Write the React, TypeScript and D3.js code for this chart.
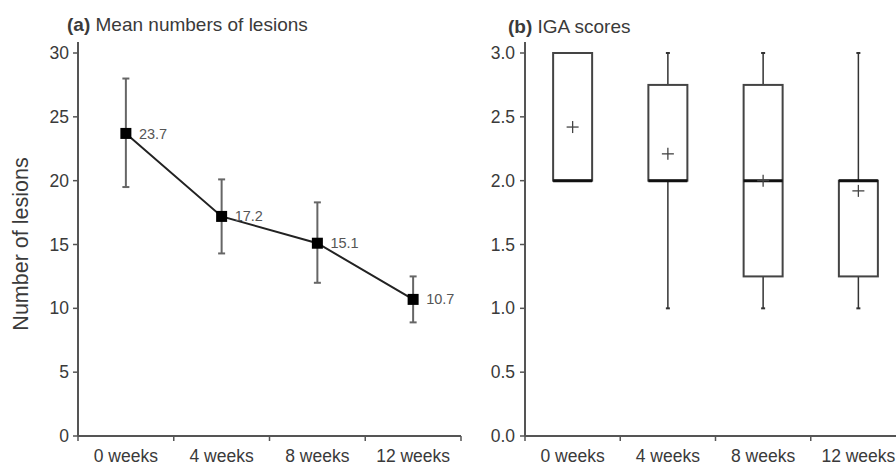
import React from "react";
import * as d3 from "d3";

const categories = ["0 weeks", "4 weeks", "8 weeks", "12 weeks"];
const lesionMeans = [23.7, 17.2, 15.1, 10.7];
const lesionUpper = [28.0, 20.1, 18.3, 12.5];
const lesionLower = [19.5, 14.3, 12.0, 8.9];
const lesionTicks = [0, 5, 10, 15, 20, 25, 30];

const igaMin = [2, 1, 1, 1];
const igaQ1 = [2, 2, 1.25, 1.25];
const igaMedian = [2, 2, 2, 2];
const igaQ3 = [3, 2.75, 2.75, 2];
const igaMax = [3, 3, 3, 3];
const igaMean = [2.42, 2.21, 2.0, 1.92];
const igaTicks = [0, 0.5, 1.0, 1.5, 2.0, 2.5, 3.0];

const FONT = "'Liberation Sans', Arial, Helvetica, sans-serif";
const AXIS = "#555";
const TXT = "#3a3a3a";

export default function App() {
  const W = 896, H = 466;
  const yTop = 53, yBot = 436, axisTop = 42;
  const xa = d3.scaleBand<string>().domain(categories).range([78, 461]);
  const ya = d3.scaleLinear().domain([0, 30]).range([yBot, yTop]);
  const xb = d3.scaleBand<string>().domain(categories).range([525, 906]);
  const yb = d3.scaleLinear().domain([0, 3]).range([yBot, yTop]);

  const lineGen = d3
    .line<number>()
    .x((_, i) => (xa(categories[i]) as number) + xa.bandwidth() / 2)
    .y((d) => ya(d));

  const boundaries = (x: d3.ScaleBand<string>) => {
    const arr = categories.map((c) => x(c) as number);
    arr.push(x.range()[1]);
    return arr;
  };

  const boxW = 39;
  const xLabelBaseline = 462;

  return (
    <svg width={W} height={H} style={{ display: "block", position: "absolute", left: 0, top: 0 }} fontFamily={FONT}>
      <rect width={W} height={H} fill="#fff" />

      {/* ---------- Panel (a) ---------- */}
      <text x={67} y={31} fontSize={19} fill={TXT}>
        <tspan fontWeight="bold">(a)</tspan> Mean numbers of lesions
      </text>
      <text
        transform={`translate(28,${244}) rotate(-90)`}
        textAnchor="middle"
        fontSize={21.5}
        fill={TXT}
      >
        Number of lesions
      </text>
      <line x1={78} x2={78} y1={axisTop} y2={yBot} stroke={AXIS} strokeWidth={2} />
      <line x1={78} x2={461} y1={yBot} y2={yBot} stroke={AXIS} strokeWidth={2} />
      {lesionTicks.map((t) => (
        <g key={"ya" + t}>
          <line x1={73} x2={78} y1={ya(t)} y2={ya(t)} stroke={AXIS} strokeWidth={1.5} />
          <text x={69} y={ya(t)} dy="0.35em" textAnchor="end" fontSize={17.5} fill={TXT}>
            {t}
          </text>
        </g>
      ))}
      {boundaries(xa).map((b, i) => (
        <line key={"xta" + i} x1={b} x2={b} y1={yBot} y2={yBot + 5} stroke={AXIS} strokeWidth={1.5} />
      ))}
      {categories.map((c) => (
        <text key={"xla" + c} x={(xa(c) as number) + xa.bandwidth() / 2} y={xLabelBaseline} textAnchor="middle" fontSize={17.5} fill={TXT}>
          {c}
        </text>
      ))}
      {categories.map((c, i) => {
        const cx = (xa(c) as number) + xa.bandwidth() / 2;
        return (
          <g key={"eb" + c} stroke="#666" strokeWidth={2}>
            <line x1={cx} x2={cx} y1={ya(lesionUpper[i])} y2={ya(lesionLower[i])} />
            <line x1={cx - 3.5} x2={cx + 3.5} y1={ya(lesionUpper[i])} y2={ya(lesionUpper[i])} />
            <line x1={cx - 3.5} x2={cx + 3.5} y1={ya(lesionLower[i])} y2={ya(lesionLower[i])} />
          </g>
        );
      })}
      <path d={lineGen(lesionMeans) as string} fill="none" stroke="#222" strokeWidth={2} />
      {categories.map((c, i) => {
        const cx = (xa(c) as number) + xa.bandwidth() / 2;
        return (
          <g key={"mk" + c}>
            <rect x={cx - 5.5} y={ya(lesionMeans[i]) - 5.5} width={11} height={11} fill="#000" />
            <text x={cx + 13} y={ya(lesionMeans[i])} dy="0.35em" fontSize={14.5} fill="#555">
              {lesionMeans[i].toFixed(1)}
            </text>
          </g>
        );
      })}

      {/* ---------- Panel (b) ---------- */}
      <text x={508} y={33} fontSize={19} fill={TXT}>
        <tspan fontWeight="bold">(b)</tspan> IGA scores
      </text>
      <line x1={525} x2={525} y1={axisTop} y2={yBot} stroke={AXIS} strokeWidth={2} />
      <line x1={525} x2={906} y1={yBot} y2={yBot} stroke={AXIS} strokeWidth={2} />
      {igaTicks.map((t) => (
        <g key={"yb" + t}>
          <line x1={520} x2={525} y1={yb(t)} y2={yb(t)} stroke={AXIS} strokeWidth={1.5} />
          <text x={515} y={yb(t)} dy="0.35em" textAnchor="end" fontSize={17.5} fill={TXT}>
            {t.toFixed(1)}
          </text>
        </g>
      ))}
      {boundaries(xb).map((b, i) => (
        <line key={"xtb" + i} x1={b} x2={b} y1={yBot} y2={yBot + 5} stroke={AXIS} strokeWidth={1.5} />
      ))}
      {categories.map((c) => (
        <text key={"xlb" + c} x={(xb(c) as number) + xb.bandwidth() / 2} y={xLabelBaseline} textAnchor="middle" fontSize={17.5} fill={TXT}>
          {c}
        </text>
      ))}
      {categories.map((c, i) => {
        const cx = (xb(c) as number) + xb.bandwidth() / 2;
        const x0 = cx - boxW / 2;
        return (
          <g key={"box" + c}>
            {igaMax[i] > igaQ3[i] && (
              <g stroke="#333" strokeWidth={1.5}>
                <line x1={cx} x2={cx} y1={yb(igaQ3[i])} y2={yb(igaMax[i])} />
                <line x1={cx - 2} x2={cx + 2} y1={yb(igaMax[i])} y2={yb(igaMax[i])} strokeWidth={2} />
              </g>
            )}
            {igaMin[i] < igaQ1[i] && (
              <g stroke="#333" strokeWidth={1.5}>
                <line x1={cx} x2={cx} y1={yb(igaQ1[i])} y2={yb(igaMin[i])} />
                <line x1={cx - 2} x2={cx + 2} y1={yb(igaMin[i])} y2={yb(igaMin[i])} strokeWidth={2} />
              </g>
            )}
            <rect
              x={x0}
              y={yb(igaQ3[i])}
              width={boxW}
              height={yb(igaQ1[i]) - yb(igaQ3[i])}
              fill="none"
              stroke="#444"
              strokeWidth={2}
            />
            <line x1={x0} x2={x0 + boxW} y1={yb(igaMedian[i])} y2={yb(igaMedian[i])} stroke="#111" strokeWidth={3} />
            <g stroke="#444" strokeWidth={1.3}>
              <line x1={cx - 6} x2={cx + 6} y1={yb(igaMean[i])} y2={yb(igaMean[i])} />
              <line x1={cx} x2={cx} y1={yb(igaMean[i]) - 6} y2={yb(igaMean[i]) + 6} />
            </g>
          </g>
        );
      })}
    </svg>
  );
}
